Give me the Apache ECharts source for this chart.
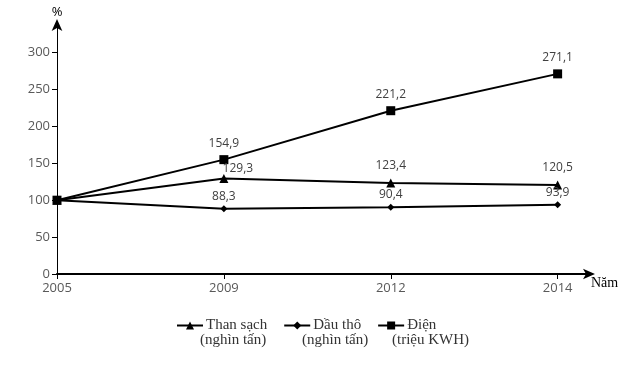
<!DOCTYPE html>
<html><head><meta charset="utf-8">
<script src="https://cdn.jsdelivr.net/npm/echarts@6/dist/echarts.min.js"></script>
<style>html,body{margin:0;padding:0;background:#fff}#c{width:635px;height:370px}</style>
</head><body><div id="c"></div>
<script>
const years = ['2005', '2009', '2012', '2014'];
const thanSach = [100, 129.3, 123.4, 120.5];
const dauTho = [100, 88.3, 90.4, 93.9];
const dien = [100, 154.9, 221.2, 271.1];
const yTicks = [0, 50, 100, 150, 200, 250, 300];
const seriesNames = ['Than sạch', 'Dầu thô', 'Điện'];
const units = ['(nghìn tấn)', '(nghìn tấn)', '(triệu KWH)'];

const chart = echarts.init(document.getElementById('c'), null, {renderer: 'canvas'});
const fmt = v => String(v).replace('.', ',');
const toPts = arr => arr.map((v, i) => [i, v]);
const labelFont = {fontFamily: 'Open Sans, Liberation Sans, sans-serif', fontSize: 12, color: '#404040'};

function mkSeries(name, data, symbol, size, dist, offsets) {
  return {
    name, type: 'line', data: toPts(data).map((p, i) => {
      const o = {value: p};
      if (i === 0) o.label = {show: false};
      if (offsets && offsets[i]) o.label = {offset: offsets[i]};
      return o;
    }),
    symbol, symbolSize: size, showAllSymbol: true,
    lineStyle: {color: '#000', width: 2},
    itemStyle: {color: '#000'},
    label: Object.assign({show: true, position: 'top', distance: dist, formatter: p => fmt(p.value[1])}, labelFont),
    z: 3
  };
}

chart.setOption({
  animation: false,
  grid: {left: 57, right: 44, top: 23, bottom: 96},
  legend: {
    left: 171, top: 313, itemWidth: 26, itemHeight: 10, itemGap: 16,
    data: seriesNames,
    textStyle: {fontFamily: 'Liberation Serif, serif', fontSize: 15, color: '#333', padding: [0, 0, 0, -2]}
  },
  xAxis: {
    type: 'value', min: 0, max: 3.2,
    name: 'Năm', nameLocation: 'end', nameGap: 0,
    nameTextStyle: {fontFamily: 'Liberation Serif, serif', fontSize: 14, color: '#000', verticalAlign: 'top', padding: [2, 0, 0, 0]},
    axisLine: {lineStyle: {color: '#000', width: 2}, symbol: ['none', 'arrow'], symbolSize: [8, 12], symbolOffset: [0, 4]},
    axisTick: {show: true, length: 5, lineStyle: {color: '#000', width: 1}, customValues: [0, 1, 2, 3]},
    axisLabel: {customValues: [0, 1, 2, 3], formatter: v => years[v] || '', margin: 8,
      fontFamily: 'Open Sans, Liberation Sans, sans-serif', fontSize: 13, color: '#595959'},
    splitLine: {show: false}
  },
  yAxis: {
    type: 'value', min: 0, max: 340,
    name: '%', nameLocation: 'end', nameGap: 4,
    nameTextStyle: {fontFamily: 'Open Sans, Liberation Sans, sans-serif', fontSize: 13, color: '#000'},
    axisLine: {show: true, lineStyle: {color: '#000', width: 1}, symbol: ['none', 'arrow'], symbolSize: [8, 12], symbolOffset: [0, 4]},
    axisTick: {show: true, length: 5, lineStyle: {color: '#000'}, customValues: yTicks},
    axisLabel: {customValues: yTicks, margin: 7,
      fontFamily: 'Open Sans, Liberation Sans, sans-serif', fontSize: 13, color: '#595959'},
    splitLine: {show: false}
  },
  series: [
    mkSeries(seriesNames[0], thanSach, 'triangle', 9, 7, [null, [14, 8], null, null]),
    mkSeries(seriesNames[1], dauTho, 'diamond', 7, 3, null),
    mkSeries(seriesNames[2], dien, 'rect', 9, 6, null)
  ],
  graphic: [
    {type: 'text', left: 200, top: 333, style: {text: units[0], font: '15px "Liberation Serif", serif', fill: '#333'}},
    {type: 'text', left: 302, top: 333, style: {text: units[1], font: '15px "Liberation Serif", serif', fill: '#333'}},
    {type: 'text', left: 392, top: 333, style: {text: units[2], font: '15px "Liberation Serif", serif', fill: '#333'}}
  ]
});
</script></body></html>
